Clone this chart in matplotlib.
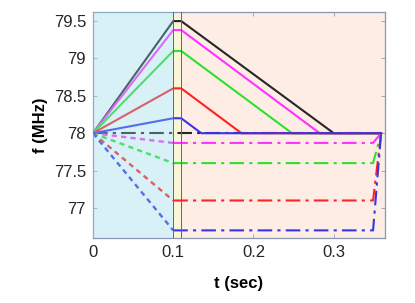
import numpy as np
import matplotlib.pyplot as plt
from matplotlib.patches import Rectangle

plt.rcParams['font.family'] = ['Liberation Sans', 'DejaVu Sans']

# chirp segments (sec)
t_ramp = 0.1
t_hold = 0.11
t_back = 0.349
t_stop = 0.359
f0 = 78.0

colors = ['#262626', '#ff33ff', '#2ee02e', '#ff2222', '#3535ee']
# upper (solid) traces
peaks = [79.5, 79.38, 79.1, 78.6, 78.2]
t_down = [0.30, 0.2825, 0.248, 0.185, 0.135]
# lower (dash-dot) traces
troughs = [78.0, 77.87, 77.6, 77.1, 76.7]

fig = plt.figure(figsize=(4.15, 3.03), dpi=100)
ax = fig.add_axes([0.224, 0.215, 0.704, 0.745])

# background regions
ax.add_patch(Rectangle((t_ramp, 76.0), t_hold - t_ramp, 4.0, color='#fbf5d8', lw=0, zorder=0))
ax.add_patch(Rectangle((t_hold, 76.0), 0.5, 4.0, color='#fdede4', lw=0, zorder=0))

dd = (7, 2.5, 1.5, 2.5)
for c, lo in zip(colors, troughs):
    if lo == f0:
        ax.plot([0, t_stop], [f0, f0], color=c, lw=1.5, dashes=dd, zorder=2)
        continue
    ax.plot([0, t_ramp], [f0, lo], color=c, lw=1.7, dashes=(2.2, 1.8), zorder=2)
    ax.plot([t_ramp, t_back, t_stop], [lo, lo, f0], color=c, lw=1.5, dashes=dd, zorder=2)

for c, hi, td in zip(colors, peaks, t_down):
    ax.plot([0, t_ramp, t_hold, td, t_stop], [f0, hi, hi, f0, f0],
            color=c, lw=1.5, zorder=3)

# tinted overlay of the ramp region
ax.add_patch(Rectangle((0, 76.0), t_ramp, 4.0, color='#90d7e8', alpha=0.35, lw=0, zorder=5))
for tv in [t_ramp, t_hold]:
    ax.axvline(tv, color='#4a65a8', lw=0.7, zorder=6)

ax.set_xlim(0, 0.364)
ax.set_ylim(76.6, 79.62)
ax.set_xticks([0, 0.1, 0.2, 0.3])
ax.set_xticklabels(['0', '0.1', '0.2', '0.3'])
ax.set_yticks([77, 77.5, 78, 78.5, 79, 79.5])
ax.set_yticklabels(['77', '77.5', '78', '78.5', '79', '79.5'])
ax.tick_params(direction='in', length=3, width=0.6, color='#9aa0aa',
               labelsize=12, labelcolor='#262626', top=True, right=True, pad=5)
for s in ax.spines.values():
    s.set_color('#8a96b4')
    s.set_linewidth(0.9)
ax.set_xlabel('t (sec)', fontsize=12, fontweight='bold', labelpad=12)
ax.set_ylabel('f (MHz)', fontsize=12, fontweight='bold', labelpad=4)

fig.savefig('out.png', dpi=100)
